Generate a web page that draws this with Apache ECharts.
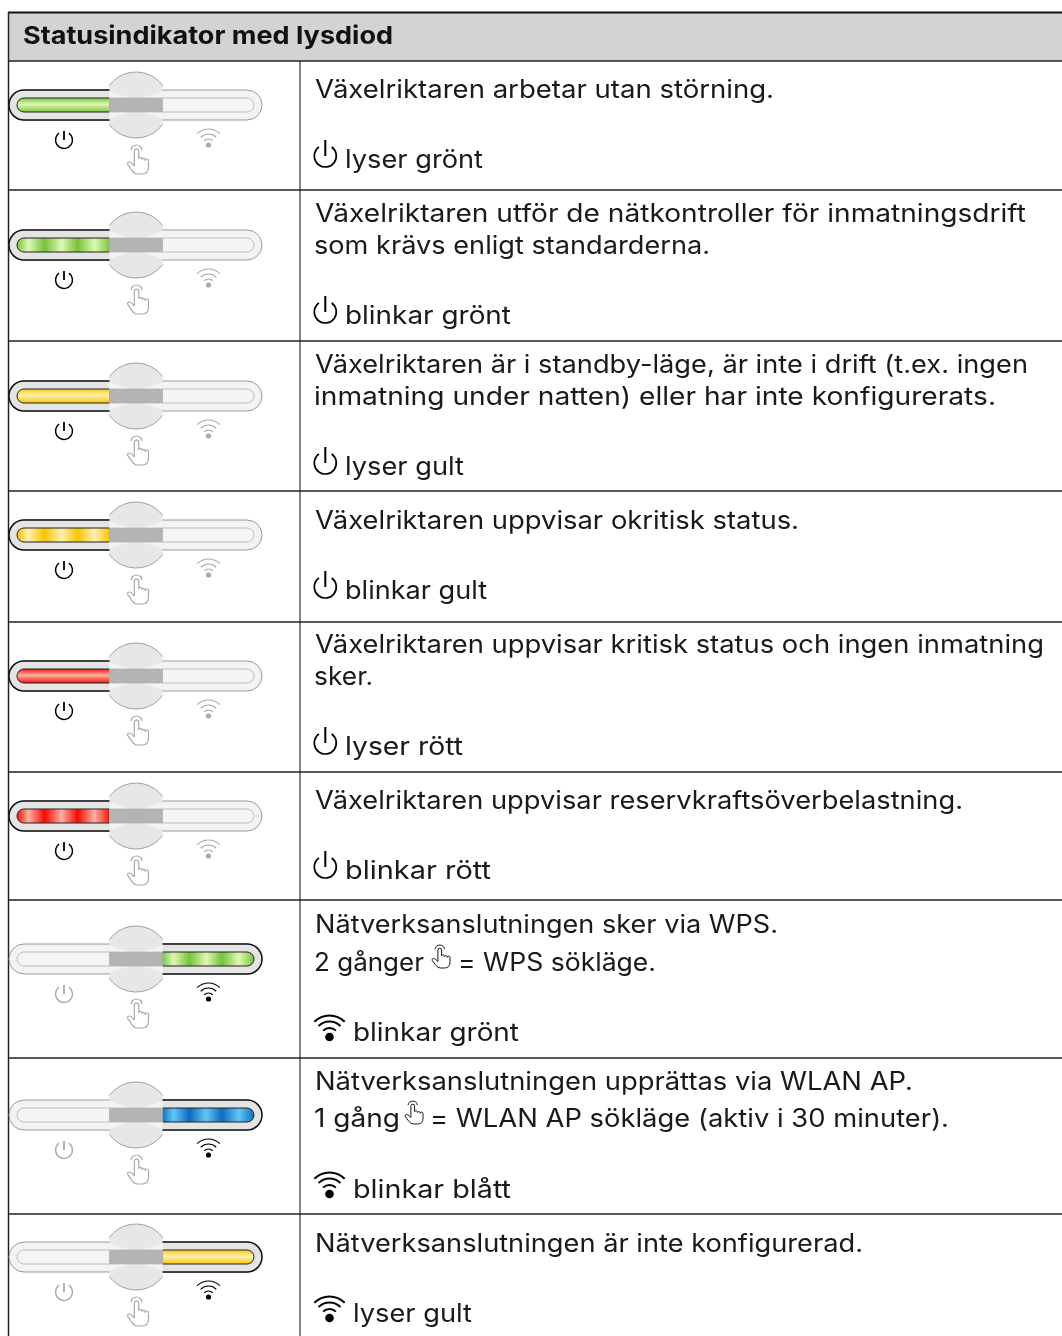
<!DOCTYPE html>
<html>
<head>
<meta charset="utf-8">
<title>Statusindikator med lysdiod</title>
<script src="https://cdn.jsdelivr.net/npm/echarts@6/dist/echarts.min.js"></script>
<style>
html, body { margin: 0; padding: 0; background: #fff; }
#main { width: 1062px; height: 1336px; }
</style>
</head>
<body>
<div id="main"></div>
<script>
var headerText = 'Statusindikator med lysdiod';

// one entry per table row, "{hand}" marks the inline hand icon
var descriptions = [
    ['Växelriktaren arbetar utan störning.'],
    ['Växelriktaren utför de nätkontroller för inmatningsdrift', 'som krävs enligt standarderna.'],
    ['Växelriktaren är i standby-läge, är inte i drift (t.ex. ingen', 'inmatning under natten) eller har inte konfigurerats.'],
    ['Växelriktaren uppvisar okritisk status.'],
    ['Växelriktaren uppvisar kritisk status och ingen inmatning', 'sker.'],
    ['Växelriktaren uppvisar reservkraftsöverbelastning.'],
    ['Nätverksanslutningen sker via WPS.', '2 gånger{hand}= WPS sökläge.'],
    ['Nätverksanslutningen upprättas via WLAN AP.', '1 gång{hand}= WLAN AP sökläge (aktiv i 30 minuter).'],
    ['Nätverksanslutningen är inte konfigurerad.']
];
var statusTexts = ['lyser grönt', 'blinkar grönt', 'lyser gult', 'blinkar gult', 'lyser rött', 'blinkar rött', 'blinkar grönt', 'blinkar blått', 'lyser gult'];
var ledSides = ['power', 'power', 'power', 'power', 'power', 'power', 'wifi', 'wifi', 'wifi'];
var ledColors = ['green', 'green', 'yellow', 'yellow', 'red', 'red', 'green', 'blue', 'yellow'];
var ledBlinking = [false, true, false, true, false, true, true, true, false];

// layout of the table in page pixels, kept apart from the content above
var rowTops = [61, 190, 341, 491, 622, 772, 900, 1058, 1214];
var barCenters = [105, 245, 396, 535, 676, 816, 959, 1115, 1257];
var lineCenters = [[89], [213, 245], [364, 396], [520], [644, 676], [800], [924, 962], [1081, 1118], [1243]];
var lineEnds = [[774], [1026, 710], [1028, 996], [799], [1044, 373], [963], [778, 656], [913, 949], [863]];
var statusCenters = [159, 315, 466, 590, 746, 870, 1032, 1189, 1313];
var statusEnds = [483, 511, 464, 487, 463, 491, 519, 511, 472];
// lines with an inline hand: end of the first part, hand left edge, start of the second part
var handSpans = { 6: [424, 432, 458], 7: [400, 405, 430] };

var palette = {
    green: { dark: '#78c13a', light: '#dcf9b4' },
    yellow: { dark: '#f9c400', light: '#fff0b0' },
    red: { dark: '#f20a0a', light: '#ffb09c' },
    blue: { dark: '#0a6cc0', light: '#62c6f5' }
};
var FONT = 'Inter';
var FONT_SIZE = 25;
var TEXT_COLOR = '#1a1a1a';
var OFF_COLOR = '#aaaaaa';
var ON_COLOR = '#000000';
var HAND_PATH = 'M4 6A5 5 0 0 1 14 6M7 17V7A2 2 0 0 1 11 7V14A1.6 1.6 0 0 1 14 14V15A1.6 1.6 0 0 1 17 15V16A1.5 1.5 0 0 1 20 16V22Q20 29 14 29H10Q7 29 5 26L1 20Q0 18 2 17.5Q3.5 17 5 19L7 21Z';
var BUTTON_PATH = 'M0 13.6A33 33 0 0 1 53 13.6V52.4A33 33 0 0 1 0 52.4Z';
var BUTTON_ANGLE = 0.939;

var measureCtx = document.createElement('canvas').getContext('2d');
function textWidth(str, size, weight) {
    measureCtx.font = weight + ' ' + size + 'px ' + FONT;
    return measureCtx.measureText(str).width;
}

// the original face is wider than Inter, so each text is stretched to its measured end
function label(api, str, x, end, y, opt) {
    opt = opt || {};
    var size = opt.size || FONT_SIZE;
    var weight = opt.weight || 400;
    var p = api.coord([x, y + 1]);
    return {
        type: 'text',
        x: p[0],
        y: p[1],
        scaleX: (end - x) / textWidth(str, size, weight),
        style: {
            text: str, x: 0, y: 0, fill: opt.color || TEXT_COLOR,
            fontFamily: FONT, fontSize: size, fontWeight: weight,
            align: 'left', verticalAlign: 'middle'
        }
    };
}

function box(api, x0, y0, x1, y1, r, style) {
    var a = api.coord([x0, y0]);
    var b = api.coord([x1, y1]);
    return { type: 'rect', shape: { x: a[0], y: a[1], width: b[0] - a[0], height: b[1] - a[1], r: r }, style: style };
}

function segment(api, x0, y0, x1, y1, color, width) {
    var a = api.coord([x0, y0]);
    var b = api.coord([x1, y1]);
    return { type: 'line', shape: { x1: a[0], y1: a[1], x2: b[0], y2: b[1] }, style: { stroke: color, lineWidth: width, lineCap: 'butt' } };
}

function arc(api, x, y, r, from, to, color, width) {
    var c = api.coord([x, y]);
    return { type: 'arc', shape: { cx: c[0], cy: c[1], r: r, startAngle: from, endAngle: to, clockwise: true }, style: { stroke: color, fill: 'none', lineWidth: width } };
}

function dot(api, x, y, r, fill) {
    var c = api.coord([x, y]);
    return { type: 'circle', shape: { cx: c[0], cy: c[1], r: r }, style: { fill: fill } };
}

function triangle(api, pts, fill) {
    return { type: 'polygon', shape: { points: pts.map(function (p) { return api.coord(p); }) }, style: { fill: fill } };
}

function powerIcon(api, x, y, r, stem, color, width) {
    return [
        arc(api, x, y, r, -Math.PI / 2 + 0.62, Math.PI * 1.5 - 0.62, color, width),
        segment(api, x, y - stem, x, y, color, width * 1.2)
    ];
}

function wifiIcon(api, x, y, radii, dotR, color, width) {
    var out = radii.map(function (r) {
        return arc(api, x, y, r, -Math.PI * 0.75, -Math.PI * 0.25, color, width);
    });
    out.push(dot(api, x, y, dotR, color));
    return out;
}

function handIcon(api, x, y, w, h, color, width) {
    var p = api.coord([x, y]);
    return {
        type: 'path',
        shape: { pathData: HAND_PATH, layout: 'cover', x: p[0], y: p[1], width: w, height: h },
        style: { fill: 'none', stroke: color, lineWidth: width, lineJoin: 'round' }
    };
}

function ledFill(colorName, blinking) {
    var c = palette[colorName];
    if (!blinking) {
        return new echarts.graphic.LinearGradient(0, 0, 0, 1, [
            { offset: 0, color: c.dark },
            { offset: 0.45, color: c.light },
            { offset: 1, color: c.dark }
        ]);
    }
    return new echarts.graphic.LinearGradient(0, 0, 1, 0, [
        { offset: 0, color: c.dark },
        { offset: 0.13, color: c.light },
        { offset: 0.3, color: c.dark },
        { offset: 0.48, color: c.light },
        { offset: 0.65, color: c.dark },
        { offset: 0.83, color: c.light },
        { offset: 1, color: c.dark }
    ]);
}

function buttonGraphic(api, y) {
    var p = api.coord([109.5, y - 33]);
    var out = [{
        type: 'path',
        shape: { pathData: BUTTON_PATH, layout: 'cover', x: p[0], y: p[1], width: 53, height: 66 },
        style: { fill: '#e7e7e7' }
    }];
    out.push(arc(api, 136, y, 33, -Math.PI / 2 - BUTTON_ANGLE, -Math.PI / 2 + BUTTON_ANGLE, '#a0a0a0', 1));
    out.push(arc(api, 136, y, 33, Math.PI / 2 - BUTTON_ANGLE, Math.PI / 2 + BUTTON_ANGLE, '#a0a0a0', 1));
    out.push(triangle(api, [[109.5, y - 14], [109.5, y - 7], [130, y - 7]], '#f3f3f3'));
    out.push(triangle(api, [[162.5, y - 14], [162.5, y - 7], [142, y - 7]], '#f3f3f3'));
    out.push(triangle(api, [[109.5, y + 14], [109.5, y + 7], [130, y + 7]], '#f3f3f3'));
    out.push(triangle(api, [[162.5, y + 14], [162.5, y + 7], [142, y + 7]], '#f3f3f3'));
    out.push(box(api, 109.5, y - 7, 162.5, y + 7, 0, { fill: '#b4b4b4', stroke: '#a8a8a8', lineWidth: 0.6 }));
    return out;
}

function ledGraphic(api, i) {
    var y = barCenters[i];
    var onLeft = ledSides[i] === 'power';
    var out = [];
    // idle capsule
    out.push(box(api, 9, y - 15, 262, y + 15, 15, { fill: '#f3f3f3', stroke: '#999999', lineWidth: 1 }));
    out.push(box(api, 17, y - 7, 254, y + 7, 7, { fill: '#f5f5f5', stroke: '#bdbdbd', lineWidth: 1 }));
    // lit half, its inner end hides under the button
    if (onLeft) {
        out.push(box(api, 9, y - 15, 136, y + 15, [15, 0, 0, 15], { fill: '#e4e4e4', stroke: '#111111', lineWidth: 1.5 }));
        out.push(box(api, 17, y - 7, 110, y + 7, [7, 0, 0, 7], { fill: ledFill(ledColors[i], ledBlinking[i]), stroke: '#222222', lineWidth: 1 }));
    } else {
        out.push(box(api, 136, y - 15, 262, y + 15, [0, 15, 15, 0], { fill: '#e4e4e4', stroke: '#111111', lineWidth: 1.5 }));
        out.push(box(api, 162, y - 7, 254, y + 7, [0, 7, 7, 0], { fill: ledFill(ledColors[i], ledBlinking[i]), stroke: '#222222', lineWidth: 1 }));
    }
    out = out.concat(buttonGraphic(api, y));
    // icons under the capsule
    out = out.concat(powerIcon(api, 64, y + 35, 8.5, 9, onLeft ? ON_COLOR : OFF_COLOR, 1.5));
    out = out.concat(wifiIcon(api, 208.5, y + 40, [16, 11, 6], 2.6, onLeft ? OFF_COLOR : ON_COLOR, 1.2));
    out.push(handIcon(api, 127.5, y + 40, 21, 29, OFF_COLOR, 1.2));
    return out;
}

function textCells(api, i) {
    var out = [];
    descriptions[i].forEach(function (line, k) {
        var y = lineCenters[i][k];
        var end = lineEnds[i][k];
        var parts = line.split('{hand}');
        if (parts.length > 1) {
            var span = handSpans[i];
            out.push(label(api, parts[0], 314, span[0], y));
            out.push(handIcon(api, span[1], y - 17, 18, 23, '#1a1a1a', 1));
            out.push(label(api, parts[1], span[2], end, y));
        } else {
            out.push(label(api, line, k > 0 ? 314 : 315, end, y));
        }
    });
    var sy = statusCenters[i];
    if (ledSides[i] === 'power') {
        out = out.concat(powerIcon(api, 325.3, sy - 3, 11, 16, '#000', 1.7));
        out.push(label(api, statusTexts[i], 345, statusEnds[i], sy));
    } else {
        out = out.concat(wifiIcon(api, 329.5, sy + 5, [21.5, 15.5, 9], 4.3, '#000', 2));
        out.push(label(api, statusTexts[i], 353, statusEnds[i], sy));
    }
    return out;
}

function renderRow(params, api) {
    var i = api.value(0);
    var children = [];
    if (i === 0) {
        children.push(box(api, 9, 13, 1062, 61, 0, { fill: '#d3d3d3' }));
        children.push(label(api, headerText, 23, 393, 36, { size: 24.5, weight: 700, color: '#111' }));
        children.push(segment(api, 8, 12.5, 1062, 12.5, '#111', 2));
        children.push(segment(api, 8.5, 12, 8.5, 1336, '#222', 1.5));
        children.push(segment(api, 300, 61, 300, 1336, '#333', 1.2));
    }
    children.push(segment(api, 8, rowTops[i], 1062, rowTops[i], '#222', 1.6));
    children = children.concat(ledGraphic(api, i), textCells(api, i));
    return { type: 'group', children: children };
}

var chart = echarts.init(document.getElementById('main'));
chart.setOption({
    animation: false,
    backgroundColor: '#ffffff',
    grid: { left: 0, right: 0, top: 0, bottom: 0 },
    xAxis: { type: 'value', min: 0, max: 1062, show: false },
    yAxis: { type: 'value', min: 0, max: 1336, inverse: true, show: false },
    series: [{
        type: 'custom',
        coordinateSystem: 'cartesian2d',
        clip: false,
        silent: true,
        renderItem: renderRow,
        data: rowTops.map(function (t, i) { return [i, t]; }),
        encode: { x: 0, y: 1 }
    }]
});
</script>
</body>
</html>
